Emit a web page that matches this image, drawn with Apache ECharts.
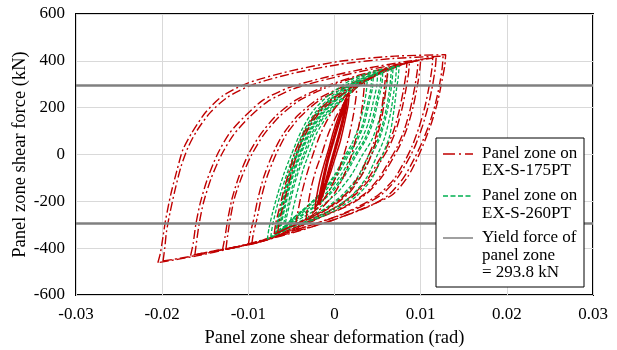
<!DOCTYPE html>
<html>
<head>
<meta charset="utf-8">
<script src="https://cdn.jsdelivr.net/npm/echarts@6/dist/echarts.min.js"></script>
<style>html,body{margin:0;padding:0;background:#fff}#c{width:617px;height:350px}</style>
</head>
<body>
<div id="c"></div>
<script>
// ---- axis ticks ----
const xTickLabels = ['-0.03','-0.02','-0.01','0','0.01','0.02','0.03'];
const yTickLabels = ['-600','-400','-200','0','200','400','600'];
const yieldForce = 293.8;
const legendLabels = [['Panel zone on','EX-S-175PT'],['Panel zone on','EX-S-260PT'],['Yield force of','panel zone','= 293.8 kN']];

// ---- EX-S-175PT loops (rad, kN) ----
const red175_E1 = [[-0.0205,-462],[-0.0202,-420],[-0.0199,-350],[-0.0196,-280],[-0.0190,-170],[-0.0183,-70],[-0.0176,20],[-0.0166,90],[-0.0150,178],[-0.0130,250],[-0.0100,306],[-0.0052,356],[0.0006,398],[0.0070,420],[0.0129,426],
  [0.0128,380],[0.0125,320],[0.0120,230],[0.0113,140],[0.0105,60],[0.0097,-10],[0.0085,-95],[0.0068,-170],[0.0045,-212],[0.0020,-250],[-0.0005,-284],[-0.0040,-325],[-0.0080,-366],[-0.0120,-401],[-0.0160,-433],[-0.0205,-462]];
const red175_E2 = [[-0.0199,-455],[-0.0197,-400],[-0.0195,-330],[-0.0191,-250],[-0.0185,-150],[-0.0178,-50],[-0.0170,30],[-0.0160,100],[-0.0144,180],[-0.0124,245],[-0.0095,298],[-0.0050,345],[0.0006,385],[0.0068,410],[0.0126,420],
  [0.0125,370],[0.0122,300],[0.0117,215],[0.0110,130],[0.0102,55],[0.0093,-15],[0.0080,-100],[0.0062,-175],[0.0040,-222],[0.0015,-258],[-0.0010,-290],[-0.0045,-328],[-0.0085,-370],[-0.0125,-403],[-0.0162,-432],[-0.0199,-455]];
const red175_D1 = [[-0.0167,-432],[-0.0164,-380],[-0.0161,-300],[-0.0156,-210],[-0.0148,-110],[-0.0136,0],[-0.0122,90],[-0.0105,160],[-0.0083,232],[-0.0052,287],[-0.0010,330],[0.0040,370],[0.0085,398],[0.0118,416],
  [0.0117,370],[0.0114,300],[0.0109,210],[0.0102,120],[0.0094,40],[0.0086,-20],[0.0073,-100],[0.0055,-170],[0.0032,-220],[0.0005,-262],[-0.0030,-305],[-0.0070,-352],[-0.0110,-392],[-0.0140,-412],[-0.0167,-432]];
const red175_D2 = [[-0.0162,-428],[-0.0160,-370],[-0.0157,-295],[-0.0152,-205],[-0.0143,-100],[-0.0131,0],[-0.0117,85],[-0.0100,155],[-0.0078,225],[-0.0048,280],[-0.0008,322],[0.0040,362],[0.0083,392],[0.0114,412],
  [0.0113,365],[0.0110,295],[0.0105,205],[0.0098,115],[0.0090,35],[0.0082,-25],[0.0069,-105],[0.0051,-172],[0.0028,-222],[0.0002,-264],[-0.0033,-308],[-0.0073,-354],[-0.0112,-393],[-0.0140,-412],[-0.0162,-428]];
const red175_C1 = [[-0.0130,-407],[-0.0127,-350],[-0.0124,-280],[-0.0119,-190],[-0.0111,-95],[-0.0100,0],[-0.0086,85],[-0.0068,165],[-0.0045,232],[-0.0015,285],[0.0025,335],[0.0065,375],[0.0100,405],
  [0.0099,360],[0.0096,290],[0.0091,200],[0.0084,110],[0.0076,40],[0.0068,-15],[0.0055,-95],[0.0038,-165],[0.0015,-220],[-0.0012,-262],[-0.0045,-318],[-0.0085,-372],[-0.0130,-407]];
const red175_C2 = [[-0.0126,-404],[-0.0124,-345],[-0.0121,-275],[-0.0116,-185],[-0.0107,-90],[-0.0096,0],[-0.0082,85],[-0.0064,162],[-0.0042,228],[-0.0012,282],[0.0025,330],[0.0063,370],[0.0097,402],
  [0.0096,355],[0.0093,285],[0.0088,195],[0.0081,105],[0.0073,35],[0.0065,-18],[0.0052,-98],[0.0035,-168],[0.0012,-222],[-0.0015,-265],[-0.0048,-320],[-0.0088,-375],[-0.0126,-404]];
const red175_B1 = [[-0.0100,-386],[-0.0098,-340],[-0.0094,-280],[-0.0089,-190],[-0.0082,-95],[-0.0072,0],[-0.0060,85],[-0.0043,165],[-0.0020,235],[0.0010,290],[0.0045,340],[0.0087,395],
  [0.0086,350],[0.0083,280],[0.0078,190],[0.0071,100],[0.0063,30],[0.0055,-20],[0.0043,-95],[0.0026,-165],[0.0005,-222],[-0.0020,-268],[-0.0050,-320],[-0.0075,-360],[-0.0100,-386]];
const red175_B2 = [[-0.0096,-383],[-0.0094,-335],[-0.0090,-275],[-0.0085,-185],[-0.0078,-92],[-0.0068,0],[-0.0056,85],[-0.0040,160],[-0.0018,230],[0.0012,285],[0.0046,335],[0.0084,392],
  [0.0083,345],[0.0080,275],[0.0075,185],[0.0068,95],[0.0060,28],[0.0052,-22],[0.0040,-97],[0.0023,-167],[0.0002,-224],[-0.0023,-270],[-0.0053,-322],[-0.0076,-360],[-0.0096,-383]];
const red175_A1 = [[-0.0070,-340],[-0.0068,-290],[-0.0064,-230],[-0.0058,-140],[-0.0050,-40],[-0.0045,20],[-0.0033,110],[-0.0018,190],[0.0000,245],[0.0025,298],[0.0045,335],[0.0062,373],
  [0.0061,330],[0.0059,260],[0.0055,160],[0.0049,70],[0.0043,0],[0.0033,-80],[0.0018,-160],[0.0000,-215],[-0.0022,-262],[-0.0045,-300],[-0.0070,-340]];
const red175_A2 = [[-0.0066,-335],[-0.0064,-285],[-0.0060,-225],[-0.0054,-135],[-0.0047,-40],[-0.0042,20],[-0.0031,105],[-0.0016,185],[0.0002,240],[0.0025,292],[0.0045,330],[0.0060,368],
  [0.0059,325],[0.0057,255],[0.0053,155],[0.0047,65],[0.0040,0],[0.0030,-82],[0.0015,-162],[-0.0003,-217],[-0.0024,-262],[-0.0046,-298],[-0.0066,-335]];
const red175_S3 = [[-0.0045,-300],[-0.0043,-255],[-0.0039,-180],[-0.0033,-95],[-0.0025,0],[-0.0016,90],[-0.0004,175],[0.0010,240],[0.0022,280],[0.0035,310],
  [0.0034,270],[0.0032,200],[0.0027,100],[0.0020,0],[0.0011,-90],[0.0000,-165],[-0.0014,-225],[-0.0028,-265],[-0.0045,-300]];
const red175_S2 = [[-0.0033,-275],[-0.0031,-220],[-0.0027,-140],[-0.0021,-60],[-0.0015,0],[-0.0007,90],[0.0003,170],[0.0014,235],[0.0026,290],
  [0.0025,245],[0.0022,170],[0.0017,80],[0.0011,0],[0.0003,-85],[-0.0007,-160],[-0.0019,-225],[-0.0033,-275]];
const red175_S1 = [[-0.0023,-235],[-0.0021,-185],[-0.0017,-110],[-0.0012,-40],[-0.0007,20],[-0.0001,100],[0.0007,185],[0.0017,265],
  [0.0016,215],[0.0012,140],[0.0007,60],[0.0002,0],[-0.0004,-70],[-0.0011,-140],[-0.0017,-190],[-0.0023,-235]];
const red175_S0 = [[-0.0019,-215],[-0.0016,-160],[-0.0012,-90],[-0.0008,-25],[-0.0003,40],[0.0003,115],[0.0009,185],[0.0014,240],
  [0.0013,200],[0.0009,135],[0.0004,65],[-0.0001,0],[-0.0006,-65],[-0.0010,-120],[-0.0014,-170],[-0.0019,-215]];

// ---- EX-S-260PT loops (rad, kN) ----
const green260_G1 = [[-0.0078,-362],[-0.0076,-315],[-0.0072,-250],[-0.0066,-170],[-0.0059,-85],[-0.0050,0],[-0.0038,105],[-0.0024,190],[-0.0006,255],[0.0020,320],[0.0048,358],[0.0075,378],
  [0.0074,330],[0.0072,280],[0.0069,190],[0.0064,80],[0.0056,0],[0.0043,-105],[0.0025,-180],[0.0000,-240],[-0.0025,-280],[-0.0052,-315],[-0.0078,-362]];
const green260_G2 = [[-0.0074,-352],[-0.0072,-305],[-0.0068,-240],[-0.0062,-160],[-0.0055,-80],[-0.0047,0],[-0.0035,105],[-0.0021,185],[-0.0003,250],[0.0022,315],[0.0048,352],[0.0072,375],
  [0.0071,325],[0.0069,270],[0.0065,175],[0.0058,70],[0.0050,0],[0.0037,-100],[0.0020,-175],[-0.0003,-235],[-0.0028,-278],[-0.0052,-312],[-0.0074,-352]];
const green260_G3 = [[-0.0069,-345],[-0.0067,-300],[-0.0063,-235],[-0.0058,-155],[-0.0052,-75],[-0.0045,0],[-0.0034,100],[-0.0020,180],[-0.0002,245],[0.0022,308],[0.0046,345],[0.0068,370],
  [0.0067,320],[0.0065,260],[0.0060,165],[0.0052,65],[0.0043,0],[0.0030,-95],[0.0013,-170],[-0.0008,-228],[-0.0030,-272],[-0.0050,-305],[-0.0069,-345]];
const green260_G3b = [[-0.0068,-342],[-0.0066,-296],[-0.0062,-232],[-0.0057,-152],[-0.0051,-73],[-0.0044,0],[-0.0033,100],[-0.0019,178],[-0.0001,243],[0.0023,305],[0.0046,342],[0.0066,366],
  [0.0065,318],[0.0063,255],[0.0058,160],[0.0050,62],[0.0040,0],[0.0027,-95],[0.0010,-170],[-0.0010,-228],[-0.0031,-270],[-0.0050,-303],[-0.0068,-342]];
const green260_G4 = [[-0.0067,-340],[-0.0065,-295],[-0.0061,-230],[-0.0056,-150],[-0.0050,-72],[-0.0043,0],[-0.0032,100],[-0.0018,180],[0.0000,240],[0.0022,300],[0.0043,335],[0.0062,362],
  [0.0061,310],[0.0058,245],[0.0052,150],[0.0043,60],[0.0032,-5],[0.0020,-85],[0.0004,-160],[-0.0015,-220],[-0.0035,-265],[-0.0052,-300],[-0.0067,-340]];
const green260_G5 = [[-0.0065,-335],[-0.0063,-290],[-0.0059,-225],[-0.0054,-145],[-0.0048,-70],[-0.0041,0],[-0.0030,98],[-0.0016,175],[0.0001,235],[0.0020,290],[0.0039,325],[0.0056,352],
  [0.0055,300],[0.0051,235],[0.0045,140],[0.0036,60],[0.0025,-5],[0.0013,-85],[-0.0002,-158],[-0.0020,-217],[-0.0038,-262],[-0.0053,-297],[-0.0065,-335]];
const green260_G5b = [[-0.0064,-332],[-0.0062,-287],[-0.0058,-222],[-0.0053,-143],[-0.0047,-69],[-0.0040,0],[-0.0029,97],[-0.0015,173],[0.0002,232],[0.0021,286],[0.0039,322],[0.0054,348],
  [0.0053,298],[0.0049,232],[0.0043,138],[0.0034,58],[0.0023,-5],[0.0011,-85],[-0.0004,-157],[-0.0021,-215],[-0.0039,-260],[-0.0053,-295],[-0.0064,-332]];
const green260_G6 = [[-0.0063,-330],[-0.0061,-285],[-0.0057,-220],[-0.0052,-142],[-0.0046,-68],[-0.0039,0],[-0.0028,95],[-0.0014,172],[0.0002,230],[0.0019,283],[0.0035,315],[0.0050,342],
  [0.0049,292],[0.0045,225],[0.0039,132],[0.0030,55],[0.0020,-5],[0.0008,-85],[-0.0007,-155],[-0.0024,-213],[-0.0041,-258],[-0.0054,-292],[-0.0063,-330]];
const green260_G7 = [[-0.0060,-322],[-0.0058,-278],[-0.0054,-215],[-0.0049,-138],[-0.0043,-65],[-0.0036,0],[-0.0026,92],[-0.0012,168],[0.0003,222],[0.0018,272],[0.0032,305],[0.0045,330],
  [0.0044,282],[0.0040,215],[0.0034,125],[0.0025,50],[0.0016,-5],[0.0004,-85],[-0.0010,-152],[-0.0026,-208],[-0.0041,-252],[-0.0052,-285],[-0.0060,-322]];
const green260_G7b = [[-0.0058,-318],[-0.0056,-274],[-0.0052,-212],[-0.0047,-136],[-0.0041,-64],[-0.0034,0],[-0.0024,90],[-0.0011,165],[0.0004,218],[0.0018,267],[0.0031,300],[0.0043,325],
  [0.0042,278],[0.0038,212],[0.0032,122],[0.0023,48],[0.0014,-5],[0.0002,-85],[-0.0012,-150],[-0.0027,-205],[-0.0041,-249],[-0.0051,-282],[-0.0058,-318]];
const green260_G8 = [[-0.0052,-310],[-0.0050,-265],[-0.0046,-200],[-0.0041,-128],[-0.0036,-60],[-0.0030,0],[-0.0021,88],[-0.0009,160],[0.0004,212],[0.0017,258],[0.0028,292],[0.0038,318],
  [0.0037,272],[0.0034,205],[0.0028,118],[0.0020,45],[0.0012,-5],[0.0001,-82],[-0.0012,-148],[-0.0026,-202],[-0.0038,-245],[-0.0046,-278],[-0.0052,-310]];

const RED = '#c00000', GREEN = '#00b050', GRAY = '#808080';
const FONT = '"Liberation Serif", "Times New Roman", serif';
const dashDot = [9, 3, 2, 3];
const dashed = [4, 2];

function loop(data, color, type, width, z) {
  return {
    type: 'line', data: data, showSymbol: false, symbol: 'none', smooth: 0.25,
    lineStyle: { color: color, width: width, type: type }, z: z, silent: true, animation: false
  };
}

const series = [];
[red175_E1, red175_E2, red175_D1, red175_D2, red175_C1, red175_C2, red175_B1, red175_B2].forEach(d => series.push(loop(d, RED, dashDot, 1.4, 2)));
[green260_G1, green260_G2, green260_G3, green260_G3b, green260_G4, green260_G5, green260_G5b, green260_G6, green260_G7, green260_G7b, green260_G8].forEach(d => series.push(loop(d, GREEN, dashed, 1.3, 3)));
[red175_A1, red175_A2, red175_S3, red175_S2].forEach(d => series.push(loop(d, RED, dashDot, 1.4, 4)));
series.push(loop(red175_S1, RED, 'solid', 1.5, 4));
series.push(loop(red175_S0, RED, 'solid', 3, 4));
// yield force lines
series.push({
  type: 'line', data: [], z: 5, silent: true,
  markLine: {
    symbol: 'none', silent: true, animation: false, label: { show: false },
    lineStyle: { color: GRAY, width: 2.5, type: 'solid' },
    data: [{ yAxis: yieldForce }, { yAxis: -yieldForce }]
  }
});

// legend built with graphics
const lx = 436, ly = 138, lw = 148, lh = 149;
const iconX1 = 443, iconX2 = 473, textX = 482;
const rowY = [[153.5, 171], [196, 213.5], [238, 255.5, 273]];
const iconY = [154, 196, 238];
const iconStyles = [
  { stroke: RED, lineWidth: 1.5, lineDash: [12, 4, 2, 4] },
  { stroke: GREEN, lineWidth: 1.5, lineDash: [5, 2.5] },
  { stroke: GRAY, lineWidth: 1.5 }
];
const graphics = [{
  type: 'rect', shape: { x: lx, y: ly, width: lw, height: lh },
  style: { fill: '#fff', stroke: '#000', lineWidth: 1 }, z: 100
}];
legendLabels.forEach((lines, i) => {
  graphics.push({ type: 'line', shape: { x1: iconX1, y1: iconY[i], x2: iconX2, y2: iconY[i] }, style: iconStyles[i], z: 101 });
  lines.forEach((t, j) => {
    graphics.push({ type: 'text', x: textX, y: rowY[i][j], z: 101,
      style: { text: t, font: '17px ' + FONT, fill: '#000', textVerticalAlign: 'middle', textAlign: 'left' } });
  });
});

const chart = echarts.init(document.getElementById('c'), null, { renderer: 'canvas' });
chart.setOption({
  animation: false,
  backgroundColor: '#fff',
  grid: { left: 76, right: 24, top: 14, bottom: 55, show: true, borderColor: '#000', borderWidth: 2, backgroundColor: 'transparent', containLabel: false, outerBoundsMode: 'none' },
  xAxis: {
    type: 'value', min: -0.03, max: 0.03, interval: 0.01,
    name: 'Panel zone shear deformation (rad)', nameLocation: 'middle', nameGap: 34, nameMoveOverlap: false,
    nameTextStyle: { fontFamily: FONT, fontSize: 18.5, color: '#000' },
    axisLine: { show: false }, axisTick: { show: false },
    axisLabel: { margin: 11, fontFamily: FONT, fontSize: 17, color: '#000', formatter: (v, i) => xTickLabels[i] },
    splitLine: { show: true, lineStyle: { color: '#d9d9d9', width: 1 } }
  },
  yAxis: {
    type: 'value', min: -600, max: 600, interval: 200,
    name: 'Panel zone shear force (kN)', nameLocation: 'middle', nameGap: 46, nameMoveOverlap: false,
    nameTextStyle: { fontFamily: FONT, fontSize: 18.5, color: '#000' },
    axisLine: { show: false }, axisTick: { show: false },
    axisLabel: { margin: 11, fontFamily: FONT, fontSize: 17, color: '#000', formatter: (v, i) => yTickLabels[i] },
    splitLine: { show: true, lineStyle: { color: '#d9d9d9', width: 1 } }
  },
  series: series,
  graphic: graphics
});
</script>
</body>
</html>
